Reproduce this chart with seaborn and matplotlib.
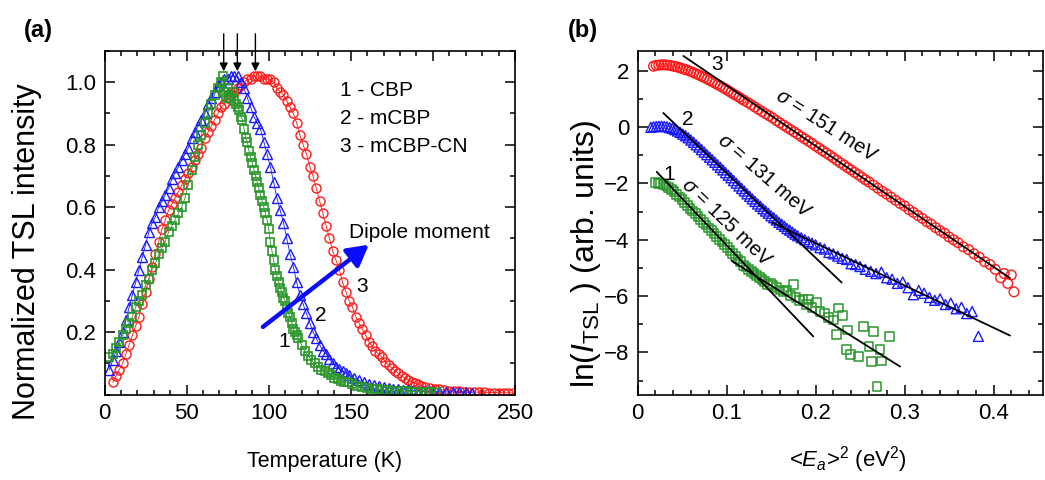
import matplotlib
matplotlib.use("Agg")
import matplotlib.pyplot as plt
from matplotlib.ticker import MultipleLocator, FixedLocator
import seaborn as sns

# ---------------- data: panel (a)  (T in K, normalized TSL intensity) ----------------
T_cbp = [3, 5, 7, 9, 11, 13, 15, 17, 19, 21, 23, 25, 27, 29, 31, 33, 35, 37, 39, 41, 43, 45, 47, 49,
         51, 53, 55, 57, 59, 61, 63, 65, 67, 69, 71, 72, 73, 74, 75, 76, 77, 78, 79, 80, 81, 82, 83,
         84, 85, 86, 87, 88, 89, 90, 91, 92, 93, 94, 95, 96, 97, 98, 99, 100, 101, 102, 103, 104,
         105, 106, 107, 108, 109, 110, 111, 112, 113, 114, 115, 116, 117, 118, 120, 122, 124, 126,
         128, 130, 132, 134, 136, 138, 140, 142, 144, 146, 148, 151, 154, 157, 160, 163, 166, 169,
         172, 175, 178, 181, 184, 187, 190, 193, 196, 199, 202]
I_cbp = [0.12, 0.13, 0.15, 0.17, 0.19, 0.21, 0.23, 0.25, 0.28, 0.30, 0.32, 0.35, 0.37, 0.40, 0.42,
         0.45, 0.47, 0.49, 0.52, 0.54, 0.56, 0.58, 0.60, 0.63, 0.67, 0.72, 0.76, 0.80, 0.83, 0.87,
         0.90, 0.93, 0.96, 0.98, 1.00, 1.02, 0.97, 0.95, 0.98, 0.96, 0.95, 0.97, 0.94, 0.93, 0.92,
         0.91, 0.89, 0.88, 0.85, 0.82, 0.81, 0.78, 0.76, 0.74, 0.72, 0.70, 0.68, 0.66, 0.64, 0.62,
         0.60, 0.58, 0.56, 0.53, 0.49, 0.46, 0.43, 0.40, 0.38, 0.36, 0.34, 0.33, 0.31, 0.30, 0.28,
         0.26, 0.25, 0.23, 0.21, 0.20, 0.19, 0.18, 0.16, 0.14, 0.125, 0.11, 0.10, 0.09, 0.08, 0.075,
         0.07, 0.062, 0.055, 0.05, 0.045, 0.042, 0.04, 0.033, 0.028, 0.024, 0.02, 0.019, 0.017,
         0.016, 0.015, 0.013, 0.012, 0.012, 0.011, 0.01, 0.01, 0.009, 0.009, 0.009, 0.009]

T_mcbp = [3, 5, 7, 9, 11, 13, 15, 17, 19, 21, 23, 25, 27, 29, 31, 33, 35, 37, 39, 41, 43, 45, 47,
          49, 51, 53, 55, 57, 59, 61, 63, 65, 67, 69, 71, 73, 75, 77, 79, 81, 83, 85, 87, 89, 91,
          93, 95, 97, 99, 101, 103, 105, 107, 109, 111, 113, 115, 117, 119, 121, 123, 125, 127,
          129, 131, 133, 135, 137, 139, 141, 143, 145, 147, 149, 152, 155, 158, 161, 164, 167,
          170, 173, 176, 179, 182, 185, 188, 191, 194, 197, 200, 204, 208, 212, 216, 220, 224]
I_mcbp = [0.08, 0.11, 0.14, 0.17, 0.20, 0.24, 0.28, 0.32, 0.36, 0.40, 0.44, 0.48, 0.52, 0.55,
          0.57, 0.60, 0.62, 0.64, 0.66, 0.69, 0.71, 0.73, 0.75, 0.77, 0.79, 0.82, 0.84, 0.86, 0.88,
          0.90, 0.93, 0.95, 0.97, 0.99, 1.00, 1.01, 1.01, 1.02, 1.02, 1.02, 1.00, 0.98, 0.95, 0.92,
          0.89, 0.87, 0.85, 0.81, 0.77, 0.73, 0.68, 0.63, 0.59, 0.55, 0.50, 0.45, 0.41, 0.36, 0.32,
          0.29, 0.26, 0.23, 0.20, 0.18, 0.16, 0.14, 0.13, 0.115, 0.10, 0.09, 0.082, 0.075, 0.068,
          0.062, 0.053, 0.046, 0.04, 0.035, 0.031, 0.027, 0.024, 0.021, 0.019, 0.017, 0.016, 0.014,
          0.013, 0.012, 0.011, 0.011, 0.010, 0.010, 0.009, 0.009, 0.008, 0.008, 0.007]

T_cn = [5, 7, 9, 11, 13, 15, 17, 19, 21, 23, 25, 27, 29, 31, 33, 35, 37, 39, 41, 43, 45, 47, 49, 51,
        53, 55, 57, 59, 61, 63, 65, 67, 69, 71, 73, 75, 77, 79, 81, 83, 85, 87, 89, 91, 93, 95, 97,
        99, 101, 103, 105, 107, 109, 111, 113, 115, 117, 119, 121, 123, 125, 127, 129, 131, 133,
        135, 137, 139, 141, 143, 145, 147, 149, 151, 153, 155, 157, 159, 161, 163, 165, 167, 169,
        171, 173, 175, 177, 179, 181, 183, 185, 187, 189, 191, 193, 195, 198, 201, 204, 207, 210,
        213, 216, 219, 222, 225, 228, 231, 234, 237, 240, 243, 246, 249]
I_cn = [0.04, 0.06, 0.08, 0.10, 0.13, 0.16, 0.19, 0.22, 0.25, 0.29, 0.33, 0.37, 0.41, 0.45, 0.49,
        0.53, 0.56, 0.59, 0.61, 0.63, 0.65, 0.67, 0.69, 0.71, 0.73, 0.75, 0.77, 0.79, 0.82, 0.84,
        0.86, 0.88, 0.90, 0.92, 0.93, 0.95, 0.96, 0.97, 0.98, 0.99, 1.00, 1.01, 1.01, 1.02, 1.02,
        1.02, 1.01, 1.01, 1.01, 1.00, 0.98, 0.97, 0.96, 0.94, 0.92, 0.90, 0.87, 0.83, 0.80, 0.77,
        0.73, 0.70, 0.66, 0.62, 0.58, 0.54, 0.50, 0.46, 0.43, 0.40, 0.36, 0.33, 0.30, 0.28, 0.25,
        0.23, 0.21, 0.19, 0.17, 0.155, 0.14, 0.13, 0.12, 0.105, 0.095, 0.085, 0.077, 0.068, 0.06,
        0.053, 0.047, 0.042, 0.037, 0.033, 0.029, 0.026, 0.022, 0.019, 0.017, 0.015, 0.013, 0.012,
        0.011, 0.01, 0.009, 0.009, 0.008, 0.008, 0.007, 0.007, 0.007, 0.006, 0.006, 0.006]

peak_T = [72.6, 80.9, 91.9]

# ---------------- data: panel (b)  (<Ea>^2 in eV^2, ln I_TSL) ----------------
E2_cbp = [0.020, 0.023, 0.026, 0.029, 0.032, 0.035, 0.038, 0.041, 0.044, 0.047, 0.050, 0.053,
          0.056, 0.059, 0.062, 0.065, 0.068, 0.071, 0.074, 0.077, 0.080, 0.083, 0.086, 0.089,
          0.092, 0.095, 0.098, 0.101, 0.104, 0.107, 0.110, 0.113, 0.116, 0.119, 0.122, 0.125,
          0.128, 0.131, 0.134, 0.137, 0.140, 0.143, 0.146, 0.149, 0.152, 0.156, 0.160, 0.164,
          0.168, 0.172, 0.175, 0.178, 0.182, 0.186, 0.190, 0.192, 0.196, 0.201, 0.205, 0.210,
          0.215, 0.220, 0.224, 0.226, 0.230, 0.235, 0.236, 0.239, 0.248, 0.254, 0.260, 0.263,
          0.265, 0.269, 0.2725, 0.274, 0.283]
ln_cbp = [-1.98, -1.99, -2.01, -2.04, -2.09, -2.15, -2.22, -2.30, -2.39, -2.48, -2.58, -2.68,
          -2.78, -2.88, -2.98, -3.08, -3.18, -3.28, -3.38, -3.48, -3.58, -3.68, -3.78, -3.88,
          -3.98, -4.08, -4.18, -4.28, -4.38, -4.48, -4.58, -4.68, -4.78, -4.90, -4.97, -5.05,
          -5.12, -5.20, -5.28, -5.35, -5.42, -5.47, -5.58, -5.55, -5.62, -5.70, -5.78, -5.85,
          -5.80, -5.98, -5.58, -6.05, -6.15, -6.10, -6.30, -6.12, -6.40, -6.24, -6.55, -6.60,
          -6.75, -6.85, -7.37, -6.42, -6.70, -7.90, -7.20, -8.08, -8.14, -7.07, -7.80, -8.32,
          -7.25, -9.22, -7.90, -8.30, -7.43]

E2_mcbp = [0.015, 0.018, 0.021, 0.024, 0.027, 0.030, 0.033, 0.036, 0.039, 0.042, 0.045, 0.048,
           0.051, 0.054, 0.057, 0.060, 0.063, 0.066, 0.069, 0.072, 0.075, 0.078, 0.081, 0.084,
           0.087, 0.090, 0.093, 0.096, 0.099, 0.102, 0.105, 0.108, 0.111, 0.114, 0.117, 0.120,
           0.123, 0.126, 0.129, 0.132, 0.135, 0.138, 0.141, 0.144, 0.147, 0.150, 0.153, 0.156,
           0.159, 0.162, 0.165, 0.168, 0.171, 0.174, 0.177, 0.180, 0.184, 0.188, 0.192, 0.196,
           0.200, 0.205, 0.210, 0.215, 0.220, 0.225, 0.230, 0.235, 0.240, 0.245, 0.250, 0.256,
           0.262, 0.268, 0.274, 0.280, 0.286, 0.292, 0.298, 0.304, 0.310, 0.316, 0.322, 0.328,
           0.334, 0.340, 0.346, 0.352, 0.358, 0.364, 0.370, 0.376, 0.383]
ln_mcbp = [-0.01, 0.01, 0.02, 0.03, 0.03, 0.02, 0.01, -0.02, -0.05, -0.09, -0.14, -0.19, -0.25,
           -0.31, -0.38, -0.46, -0.54, -0.63, -0.71, -0.80, -0.89, -0.98, -1.07, -1.16, -1.25,
           -1.34, -1.43, -1.52, -1.62, -1.71, -1.80, -1.90, -1.99, -2.09, -2.18, -2.27, -2.37,
           -2.46, -2.55, -2.64, -2.73, -2.81, -2.90, -2.98, -3.06, -3.15, -3.22, -3.30, -3.38,
           -3.45, -3.52, -3.60, -3.66, -3.73, -3.80, -3.86, -3.93, -4.00, -4.07, -4.12, -4.18,
           -4.28, -4.33, -4.45, -4.50, -4.58, -4.66, -4.70, -4.85, -4.88, -4.95, -5.05, -5.12,
           -5.20, -5.15, -5.35, -5.40, -5.55, -5.50, -5.70, -5.95, -5.80, -5.90, -6.05, -6.15,
           -6.10, -6.30, -6.25, -6.45, -6.40, -6.62, -6.55, -7.43]

E2_cn = [0.018, 0.021, 0.024, 0.027, 0.030, 0.033, 0.036, 0.039, 0.042, 0.045, 0.048, 0.051,
         0.054, 0.057, 0.060, 0.063, 0.066, 0.069, 0.072, 0.075, 0.078, 0.081, 0.084, 0.087,
         0.090, 0.093, 0.096, 0.099, 0.102, 0.105, 0.108, 0.111, 0.114, 0.117, 0.120, 0.124,
         0.128, 0.132, 0.136, 0.140, 0.144, 0.148, 0.152, 0.156, 0.160, 0.164, 0.168, 0.172,
         0.176, 0.180, 0.184, 0.188, 0.192, 0.196, 0.200, 0.204, 0.208, 0.212, 0.216, 0.220,
         0.224, 0.228, 0.232, 0.236, 0.240, 0.244, 0.248, 0.252, 0.256, 0.260, 0.265, 0.270,
         0.275, 0.280, 0.285, 0.290, 0.295, 0.300, 0.305, 0.310, 0.315, 0.320, 0.325, 0.330,
         0.335, 0.340, 0.345, 0.350, 0.355, 0.360, 0.366, 0.372, 0.378, 0.384, 0.390, 0.396,
         0.402, 0.408, 0.412, 0.416, 0.420, 0.423]
ln_cn = [2.16, 2.19, 2.20, 2.21, 2.21, 2.20, 2.19, 2.17, 2.15, 2.13, 2.10, 2.07, 2.04, 2.01, 1.97,
         1.93, 1.89, 1.85, 1.80, 1.76, 1.71, 1.66, 1.61, 1.56, 1.51, 1.46, 1.40, 1.35, 1.29, 1.23,
         1.17, 1.12, 1.06, 1.00, 0.94, 0.87, 0.79, 0.71, 0.63, 0.55, 0.47, 0.40, 0.32, 0.23, 0.15,
         0.07, -0.01, -0.09, -0.17, -0.25, -0.34, -0.42, -0.50, -0.58, -0.67, -0.75, -0.84, -0.92,
         -1.00, -1.09, -1.18, -1.27, -1.35, -1.44, -1.52, -1.61, -1.69, -1.78, -1.87, -1.95,
         -2.06, -2.17, -2.28, -2.38, -2.49, -2.60, -2.71, -2.80, -2.93, -3.03, -3.14, -3.24,
         -3.36, -3.45, -3.57, -3.68, -3.77, -3.90, -4.00, -4.10, -4.25, -4.35, -4.50, -4.62,
         -4.78, -4.88, -5.05, -5.35, -5.20, -5.55, -5.25, -5.85]

# fitted straight lines (end points)
fit_x = {"3": [0.0515, 0.4185], "2a": [0.029, 0.2294], "2b": [0.1508, 0.4185],
         "1a": [0.0216, 0.1975], "1b": [0.1058, 0.295]}
fit_y = {"3": [2.525, -5.36], "2a": [0.50, -5.52], "2b": [-3.38, -7.40],
         "1a": [-1.59, -7.43], "1b": [-4.75, -8.50]}

RED = "#ff1a1a"
BLUE = "#1a1aff"
GREEN = "#2a962a"

# ---------------- style ----------------
sns.set_theme(style="ticks")
plt.rcParams["font.family"] = ["Liberation Sans", "DejaVu Sans"]
plt.rcParams["mathtext.fontset"] = "custom"
plt.rcParams["mathtext.rm"] = "Liberation Sans"
plt.rcParams["mathtext.it"] = "Liberation Sans:italic"
plt.rcParams["axes.linewidth"] = 1.2
plt.rcParams["axes.unicode_minus"] = True
plt.rcParams["text.color"] = "black"
plt.rcParams["axes.labelcolor"] = "black"
plt.rcParams["xtick.color"] = "black"
plt.rcParams["ytick.color"] = "black"

fig = plt.figure(figsize=(10.45, 4.8), dpi=100)
axa = fig.add_axes([104.5 / 1045, 1 - 394.7 / 480, (515 - 104.5) / 1045, (394.7 - 51) / 480])
axb = fig.add_axes([637.5 / 1045, 1 - 394.7 / 480, (1043 - 637.5) / 1045, (394.7 - 51) / 480])

for ax in (axa, axb):
    ax.tick_params(which="both", direction="in", top=True, right=True, labelsize=16,
                   width=1.1, color="black", labelcolor="black")
    ax.tick_params(which="major", length=7, pad=6)
    ax.tick_params(which="minor", length=3.8)
    for s in ax.spines.values():
        s.set_color("black")
        s.set_linewidth(1.2)

# ---------------- panel (a) ----------------
def curve(ax, x, y, color, marker, ms, mew):
    sns.lineplot(x=x, y=y, ax=ax, color=color, lw=0.6, marker=marker, ms=ms,
                 mfc="none", mec=color, mew=mew, estimator=None, sort=False)
    sns.scatterplot(x=x, y=y, ax=ax, color=color, marker=".", s=2, linewidth=0)

curve(axa, T_cn, I_cn, RED, "o", 6.5, 1.0)
curve(axa, T_mcbp, I_mcbp, BLUE, "^", 7.0, 1.0)
curve(axa, T_cbp, I_cbp, GREEN, "s", 5.5, 1.2)

axa.set_xlim(0, 250)
axa.set_ylim(0, 1.1)
axa.xaxis.set_major_locator(MultipleLocator(50))
axa.xaxis.set_minor_locator(MultipleLocator(10))
axa.yaxis.set_major_locator(FixedLocator([0.2, 0.4, 0.6, 0.8, 1.0]))
axa.yaxis.set_minor_locator(MultipleLocator(0.1))
axa.set_xlabel("Temperature (K)", fontsize=15.5)
axa.xaxis.set_label_coords(0.537, -0.165)
axa.set_ylabel("Normalized TSL intensity", fontsize=22)
axa.yaxis.set_label_coords(-0.152, 0.415)

for t in peak_T:
    axa.annotate("", xy=(t, 1.035), xytext=(t, 1.155), annotation_clip=False,
                 arrowprops=dict(arrowstyle="-|>", color="black", lw=1.0,
                                 mutation_scale=12, shrinkA=0, shrinkB=0))

axa.annotate("", xy=(161, 0.48), xytext=(96.5, 0.217),
             arrowprops=dict(arrowstyle="-|>,head_length=0.9,head_width=0.5", color="#0a0aff",
                             lw=3.2, shrinkA=0, shrinkB=0, mutation_scale=14))
axa.text(149, 0.52, "Dipole moment", fontsize=15, va="center", ha="left")
axa.text(143.5, 0.974, "1 - CBP", fontsize=15, va="center")
axa.text(143.5, 0.885, "2 - mCBP", fontsize=15, va="center")
axa.text(143.5, 0.793, "3 - mCBP-CN", fontsize=15, va="center")
axa.text(109.7, 0.169, "1", fontsize=15, ha="center", va="center")
axa.text(132, 0.254, "2", fontsize=15, ha="center", va="center")
axa.text(157, 0.345, "3", fontsize=15, ha="center", va="center")

# ---------------- panel (b) ----------------
sns.scatterplot(x=E2_cn, y=ln_cn, ax=axb, marker="o", s=48, facecolor="none",
                edgecolor=RED, linewidth=1.0)
sns.scatterplot(x=E2_mcbp, y=ln_mcbp, ax=axb, marker="^", s=52, facecolor="none",
                edgecolor=BLUE, linewidth=1.0)
sns.scatterplot(x=E2_cbp, y=ln_cbp, ax=axb, marker="s", s=40, facecolor="none",
                edgecolor=GREEN, linewidth=1.1)
for k in fit_x:
    sns.lineplot(x=fit_x[k], y=fit_y[k], ax=axb, color="black", lw=1.3, estimator=None, sort=False)

axb.set_xlim(0, 0.4556)
axb.set_ylim(-9.5, 2.7)
axb.xaxis.set_major_locator(FixedLocator([0, 0.1, 0.2, 0.3, 0.4]))
axb.xaxis.set_minor_locator(MultipleLocator(0.02))
axb.set_xticklabels(["0", "0.1", "0.2", "0.3", "0.4"])
axb.yaxis.set_major_locator(MultipleLocator(2))
axb.yaxis.set_minor_locator(MultipleLocator(1))
axb.set_xlabel(r"<$E_a$>$^2$ (eV$^2$)", fontsize=16)
axb.xaxis.set_label_coords(0.52, -0.145)
axb.set_ylabel(r"ln($I_{\rm TSL}$ ) (arb. units)", fontsize=23)
axb.yaxis.set_label_coords(-0.085, 0.41)

axb.text(0.212, 0.05, r"$\sigma$ = 151 meV", fontsize=14.5, rotation=-33, ha="center", va="center")
axb.text(0.142, -1.75, r"$\sigma$ = 131 meV", fontsize=14.5, rotation=-41, ha="center", va="center")
axb.text(0.100, -3.4, r"$\sigma$ = 125 meV", fontsize=14.5, rotation=-44, ha="center", va="center")
axb.text(0.089, 2.23, "3", fontsize=15, ha="center", va="center")
axb.text(0.057, 0.26, "2", fontsize=15, ha="center", va="center")
axb.text(0.036, -1.7, "1", fontsize=15, ha="center", va="center")

fig.text(38 / 1045, 1 - 30 / 480, "(a)", fontsize=17, fontweight="bold", ha="center", va="center")
fig.text(583 / 1045, 1 - 30 / 480, "(b)", fontsize=17, fontweight="bold", ha="center", va="center")

fig.savefig("out.png", dpi=100)
